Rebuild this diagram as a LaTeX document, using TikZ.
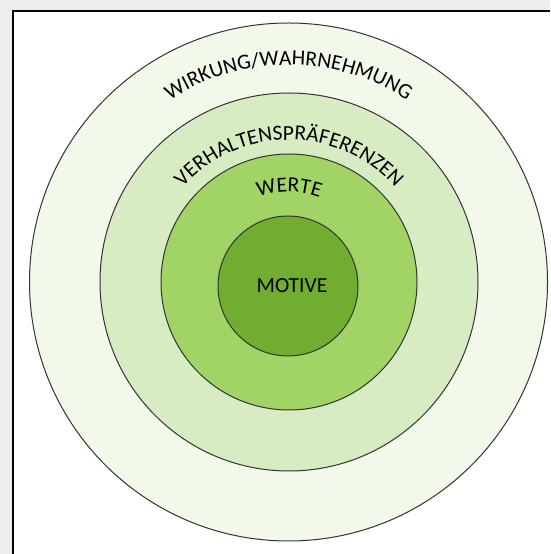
\documentclass[tikz,border=0pt]{standalone}
\usepackage{fontspec}
\setmainfont{Carlito}
\usetikzlibrary{decorations.text}
\definecolor{ringWir}{RGB}{242,248,234}
\definecolor{ringVer}{RGB}{216,236,196}
\definecolor{ringWer}{RGB}{162,211,101}
\definecolor{ringMot}{RGB}{112,173,48}
\newcommand{\lblfont}{\fontsize{21.5}{21.5}\selectfont}
\tikzset{
  ring/.style={shape=circle, draw=black!80, line width=1pt, inner sep=0pt},
  arclabel/.style={decorate, decoration={text along path, text align=center, text={#1}}}
}
\begin{document}
\begin{tikzpicture}[x=1pt,y=1pt]
	\useasboundingbox (0,0) rectangle (550,554);
	% Frame
	\fill[black!7] (0,0) rectangle (550,554);
	\fill[white] (13,0) rectangle (550,543);
	\draw[line width=1.5pt] (13,0) -- (13,543) -- (550,543);
	% Rings
	\node[ring, fill=ringWir, minimum size=518] (Wir) at (288.5,272) {};
	\node[ring, fill=ringVer, minimum size=378] (Ver) at (289,272) {};
	\node[ring, fill=ringWer, minimum size=256] (Wer) at (289,272) {};
	\node[ring, fill=ringMot, minimum size=140, font=\lblfont] (Mot) at (288,268) {\hspace*{8pt}MOTIVE};
	% Labels
	\path[arclabel={|\lblfont|WIRKUNG/WAHRNEHMUNG}] (Wir.center) ++(180:217) arc[start angle=180, end angle=0, radius=217];
	\path[arclabel={|\lblfont|VERHALTENSPRÄFERENZEN}] (Ver.center) ++(180:142) arc[start angle=180, end angle=0, radius=142];
	\path[arclabel={|\lblfont|WERTE}] (Wer.center) ++(180:90) arc[start angle=180, end angle=0, radius=90];
\end{tikzpicture}
\end{document}
